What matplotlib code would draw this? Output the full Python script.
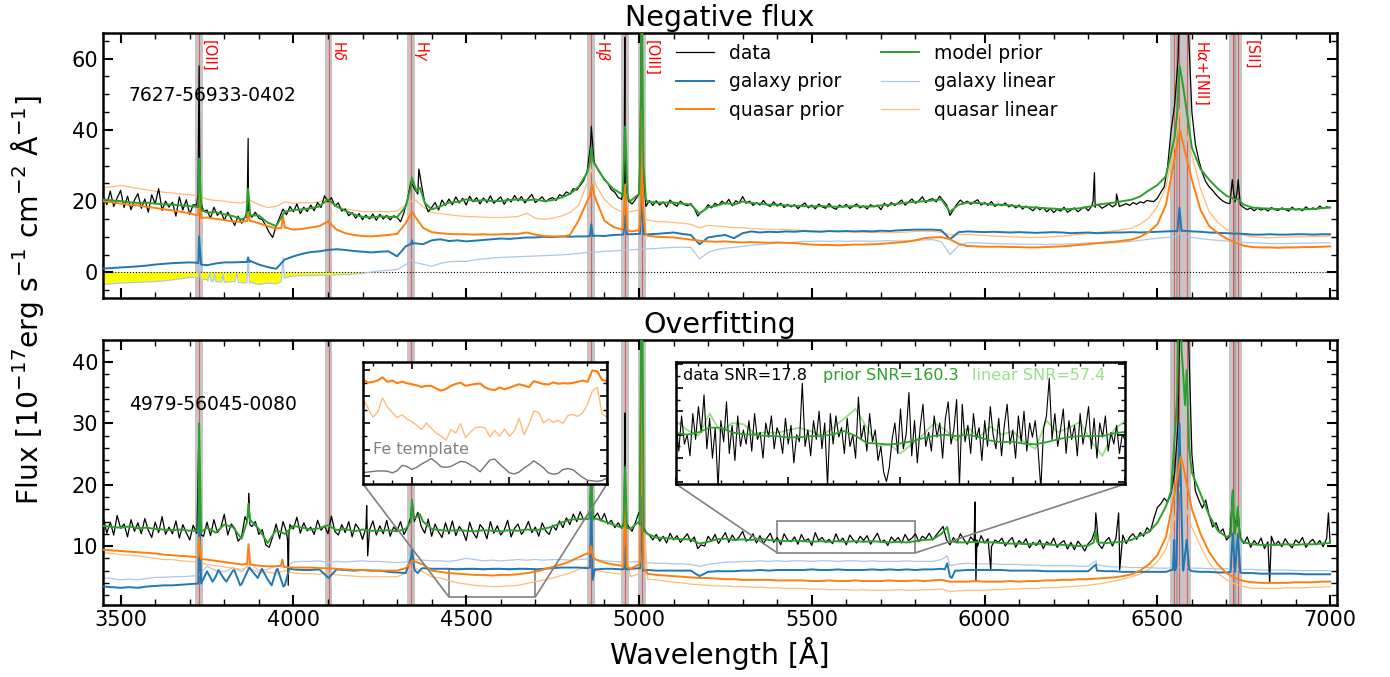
import numpy as np
import matplotlib.pyplot as plt
from matplotlib.ticker import MultipleLocator
from mpl_toolkits.axes_grid1.inset_locator import mark_inset

# wavelength grids [Angstrom]
wl_data = np.arange(3450, 7001, 10)   # observed spectra
wl_comp = np.arange(3450, 7001, 25)   # model components

# ---------------- 7627-56933-0402 : negative flux ----------------
neg_data = [
    21.5, 19.0, 22.8, 18.5, 20.9, 23.0, 18.2, 21.4, 17.6, 20.3,
    22.1, 18.0, 20.6, 16.9, 21.8, 19.2, 23.5, 17.4, 20.0, 18.3,
    19.7, 15.8, 21.2, 17.5, 20.4, 16.3, 19.0, 18.9, 19.5, 17.2,
    17.5, 15.2, 18.3, 16.0, 17.2, 14.6, 16.9, 15.1, 13.2, 15.8,
    13.8, 15.5, 16.8, 15.5, 16.9, 15.2, 14.8, 13.1, 11.2, 9.8,
    13.0, 15.4, 17.8, 16.2, 18.5, 17.0, 19.2, 16.5, 18.3, 17.1,
    18.9, 17.3, 19.6, 18.2, 21.5, 19.8, 21.0, 18.6, 19.5, 17.2,
    17.8, 15.9, 16.8, 15.2, 16.5, 14.8, 16.1, 15.0, 16.4, 14.6,
    16.3, 15.0, 16.0, 14.7, 15.9, 15.5, 14.2, 16.8, 20.5, 25.5,
    23.5, 22.0, 25.0, 19.5, 17.0, 18.2, 19.6, 17.5, 20.3, 18.8,
    20.6, 19.0, 21.2, 19.5, 20.8, 18.9, 21.4, 19.8, 21.0, 19.2,
    20.9, 19.6, 21.5, 19.4, 20.3, 21.2, 19.1, 20.7, 19.8, 21.6,
    20.1, 21.3, 19.5, 20.8, 21.9, 19.6, 20.4, 21.2, 19.8, 20.6,
    21.0, 20.2, 21.8, 21.4, 22.6, 22.0, 23.5, 23.1, 24.4, 25.8,
    28.4, 36.0, 31.0, 29.0, 27.5, 26.2, 25.0, 23.2, 22.5, 21.0,
    20.5, 21.0, 20.0, 19.2, 20.5, 22.0, 22.0, 18.5, 20.2, 18.8,
    20.1, 18.9, 19.8, 18.4, 20.3, 19.2, 18.6, 20.0, 19.1, 18.7,
    19.3, 18.0, 15.8, 16.9, 17.5, 19.0, 18.1, 19.4, 18.8, 20.0,
    19.2, 20.5, 18.7, 20.1, 19.5, 21.3, 19.4, 20.0, 18.8, 19.6,
    18.9, 20.2, 19.0, 18.5, 19.8, 18.6, 19.4, 18.2, 19.1, 18.4,
    19.0, 17.9, 18.8, 19.5, 18.1, 18.9, 17.8, 19.2, 18.4, 18.0,
    19.3, 18.2, 17.7, 18.9, 18.3, 19.1, 17.9, 18.6, 19.2, 18.1,
    18.7, 17.8, 19.0, 18.4, 18.9, 17.6, 19.4, 18.5, 19.6, 18.8,
    19.5, 20.3, 18.9, 19.8, 20.6, 19.4, 20.1, 21.2, 19.6, 20.4,
    20.7, 19.8, 21.4, 20.2, 19.0, 16.0, 17.6, 19.2, 20.3, 19.4,
    20.0, 19.1, 19.8, 20.4, 18.9, 19.6, 18.8, 19.9, 18.5, 19.2,
    18.7, 19.5, 18.4, 19.0, 18.1, 18.9, 17.8, 18.6, 18.0, 17.3,
    18.4, 17.6, 18.2, 17.0, 17.9, 16.8, 17.7, 17.2, 18.3, 16.9,
    17.5, 18.1, 17.0, 17.8, 18.4, 17.3, 18.6, 18.3, 18.9, 18.0,
    18.6, 19.2, 18.4, 19.0, 18.5, 18.9, 19.3, 18.8, 19.6, 19.1,
    19.8, 19.5, 20.2, 20.0, 19.9, 20.8, 22.5, 24.0, 30.0, 40.0,
    47.0, 60.0, 75.0, 80.0, 68.0, 45.0, 36.0, 31.5, 28.0, 25.5,
    24.0, 23.0, 21.8, 20.8, 20.0, 19.5, 19.3, 23.0, 22.0, 19.0,
    18.2, 17.6, 18.1, 17.3, 18.0, 17.5, 17.9, 17.2, 18.2, 17.6,
    17.4, 18.1, 17.7, 17.2, 18.3, 17.5, 17.9, 17.3, 18.4, 17.6,
    18.1, 17.7, 18.6, 17.9, 18.4, 18.2]
neg_data_peaks = [(3724, 22.0), (3727, 58.0), (3731, 20.0), (3866, 17.0), (3869, 37.6),
                  (3872, 16.5), (4363, 29.0), (4862, 41.0), (4957, 25.0), (4959, 66.0),
                  (4963, 24.0), (5003, 32.0), (5008, 80.0), (5013, 28.0), (6314, 20.0),
                  (6318, 28.0), (6322, 19.0), (6382, 22.0), (6565, 80.0), (6717, 26.0),
                  (6725, 19.8), (6734, 26.0)]

neg_model = [
    20.5, 20.2, 20.0, 19.7, 19.5, 19.6, 19.3, 19.1,
    19.0, 18.8, 18.6, 18.3, 16.8, 16.9, 16.3, 15.8,
    14.9, 16.0, 16.0, 14.0, 13.0, 17.0, 17.5, 17.7,
    18.0, 18.5, 20.5, 18.5, 17.3, 16.3, 15.6, 15.4,
    15.7, 15.6, 15.5, 18.5, 24.5, 21.0, 17.7, 18.5,
    19.6, 19.8, 20.5, 20.0, 20.3, 20.0, 20.0, 20.3,
    20.5, 20.2, 20.5, 20.0, 20.3, 21.0, 22.0, 24.0,
    28.0, 30.0, 26.0, 23.5, 22.0, 20.0, 22.0, 19.8,
    19.6, 19.6, 19.6, 19.3, 19.0, 16.5, 18.3, 18.7,
    19.5, 19.0, 19.9, 19.5, 19.3, 19.0, 19.0, 18.8,
    18.7, 18.6, 18.5, 18.6, 18.5, 18.4, 18.5, 18.6,
    18.5, 18.5, 18.8, 19.0, 19.3, 19.6, 19.8, 20.0,
    20.2, 20.5, 17.0, 19.0, 19.6, 19.5, 19.3, 19.0,
    19.0, 18.8, 18.5, 18.3, 18.2, 18.0, 17.9, 17.7,
    17.8, 18.0, 18.4, 19.0, 19.3, 19.6, 20.0, 20.4,
    21.3, 23.0, 24.5, 27.0, 38.0, 52.0, 35.0, 29.0,
    26.0, 23.5, 21.5, 20.5, 19.0, 18.2, 18.0, 17.9,
    17.8, 17.8, 17.7, 17.7, 17.8, 18.0, 18.2]
neg_model_peaks = [(3720, 18.4), (3727, 32.0), (3734, 17.5), (3863, 15.5), (3869, 23.5),
                   (3876, 16.0), (4340, 24.0), (4343, 26.6), (4357, 22.7), (4366, 23.8),
                   (4380, 19.5), (4858, 31.0), (4862, 35.0), (4868, 31.0), (4953, 21.5),
                   (4960, 41.0), (4967, 21.0), (5001, 24.0), (5004, 35.0), (5008, 80.0),
                   (5013, 30.0), (5020, 20.5), (6558, 45.0), (6564, 58.0), (6570, 55.0),
                   (6718, 20.8), (6733, 20.6)]

neg_quasar = [
    20.0, 19.7, 19.3, 19.0, 18.8, 18.4, 18.1, 17.7,
    17.4, 17.0, 16.6, 16.2, 15.4, 15.0, 14.7, 14.3,
    14.2, 14.5, 13.8, 13.0, 12.3, 12.5, 12.0, 12.2,
    12.6, 13.0, 14.3, 12.0, 11.0, 10.5, 10.2, 10.1,
    10.3, 10.5, 10.8, 13.8, 16.0, 12.5, 11.3, 11.0,
    10.8, 10.7, 10.7, 10.6, 10.7, 10.6, 10.7, 10.8,
    10.8, 11.2, 10.6, 10.2, 10.1, 10.0, 10.5, 14.5,
    20.0, 20.5, 14.5, 12.8, 12.0, 11.5, 11.8, 10.3,
    10.0, 9.9, 9.8, 9.5, 9.2, 8.9, 8.7, 8.6,
    8.7, 8.5, 8.4, 8.5, 8.4, 8.3, 8.4, 8.3,
    8.2, 8.0, 7.8, 7.7, 7.7, 7.6, 7.7, 7.8,
    7.8, 7.9, 8.0, 8.2, 8.4, 8.6, 9.0, 9.6,
    9.8, 9.9, 9.3, 8.0, 7.4, 7.3, 7.2, 7.2,
    7.2, 7.1, 7.1, 7.0, 7.0, 7.1, 7.2, 7.3,
    7.5, 7.7, 7.9, 8.2, 8.4, 8.6, 8.9, 9.2,
    10.0, 11.3, 13.5, 19.0, 32.0, 36.0, 26.0, 17.5,
    13.0, 11.0, 9.5, 8.4, 7.5, 7.1, 7.0, 7.0,
    6.9, 7.0, 7.0, 7.1, 7.1, 7.2, 7.3]
neg_quasar_peaks = [(3721, 16.0), (3727, 22.4), (3733, 15.3), (3866, 14.4), (3870, 17.0),
                    (3874, 14.4), (3965, 12.5), (3970, 15.7), (3976, 12.6), (4343, 17.1),
                    (4858, 21.5), (4864, 24.7), (4870, 22.0), (4954, 12.5), (4960, 24.7),
                    (4966, 12.0), (5002, 13.5), (5005, 20.0), (5008, 46.0), (5012, 18.0),
                    (5018, 11.0), (6560, 37.0), (6566, 40.0), (6572, 37.0)]

neg_galaxy = [
    1.1, 1.2, 1.4, 1.5, 1.7, 1.9, 2.2, 2.4,
    2.6, 2.7, 2.8, 2.6, 2.0, 2.5, 2.8, 2.8,
    2.9, 3.2, 2.2, 1.5, 1.0, 3.6, 4.5, 5.2,
    5.7, 5.9, 6.3, 6.5, 6.3, 6.0, 5.8, 5.6,
    5.8, 5.9, 4.5, 7.3, 8.2, 7.9, 9.0, 9.3,
    8.8, 9.0, 8.7, 8.9, 9.1, 9.3, 9.5, 9.4,
    9.6, 9.8, 9.8, 10.0, 9.9, 10.1, 10.0, 10.1,
    10.1, 10.3, 10.2, 10.5, 10.6, 10.7, 10.8, 10.7,
    10.8, 11.0, 11.2, 10.8, 10.5, 7.9, 9.8, 10.2,
    10.5, 9.6, 11.0, 11.5, 11.2, 11.4, 11.3, 11.5,
    11.4, 11.6, 11.5, 11.4, 11.6, 11.5, 11.6, 11.5,
    11.6, 11.5, 11.7, 11.6, 11.8, 11.9, 12.0, 12.0,
    12.0, 11.8, 9.3, 11.3, 11.5, 11.4, 11.3, 11.4,
    11.3, 11.2, 11.3, 11.2, 11.1, 11.2, 11.3, 11.2,
    11.0, 11.1, 11.2, 11.0, 11.1, 11.2, 11.2, 11.3,
    11.2, 11.3, 11.4, 11.5, 11.6, 11.7, 11.5, 11.4,
    11.2, 11.1, 11.0, 10.9, 10.8, 10.6, 10.6, 10.7,
    10.6, 10.6, 10.7, 10.7, 10.6, 10.7, 10.7]
neg_galaxy_peaks = [(3721, 2.7), (3727, 10.1), (3733, 2.2), (3866, 2.9), (3869, 4.2),
                    (3873, 2.9), (4340, 8.0), (4343, 9.0), (4346, 8.0), (4858, 10.2),
                    (4862, 13.5), (4866, 10.2), (4955, 10.6), (4960, 16.0), (4965, 10.7),
                    (5003, 10.8), (5008, 22.0), (5013, 10.7), (6558, 11.6), (6564, 18.2),
                    (6570, 11.6)]

neg_galaxy_lin = [
    -3.4, -3.2, -3.0, -2.9, -2.8, -2.7, -2.6, -2.4,
    -2.1, -1.8, -1.4, -1.6, -2.0, -2.4, -2.8, -2.6,
    -2.9, -2.8, -3.4, -3.0, -3.2, -1.5, -1.0, -0.9,
    -0.9, -0.8, -0.8, -0.7, -0.6, -0.5, -0.3, 0.1,
    0.4, 0.6, 0.8, 2.2, 2.8, 2.3, 1.7, 2.5,
    3.0, 3.1, 3.1, 3.5, 3.8, 4.0, 4.2, 4.3,
    4.4, 4.5, 4.6, 4.7, 4.8, 4.9, 5.1, 5.3,
    5.6, 5.7, 5.9, 6.0, 6.2, 6.3, 6.5, 6.6,
    6.7, 6.9, 7.0, 7.1, 7.0, 3.8, 5.6, 6.4,
    6.8, 7.0, 7.3, 7.6, 7.8, 8.0, 8.2, 8.3,
    8.5, 8.7, 8.7, 8.8, 8.7, 8.8, 8.7, 8.8,
    8.8, 8.7, 8.8, 8.9, 8.8, 8.9, 9.0, 9.1,
    9.2, 8.6, 5.0, 7.5, 8.4, 8.3, 8.2, 8.1,
    8.0, 8.0, 7.9, 7.9, 7.9, 7.8, 7.9, 7.9,
    8.0, 8.1, 8.3, 8.2, 8.2, 8.3, 8.5, 8.7,
    9.0, 9.3, 9.6, 9.8, 10.0, 10.1, 9.8, 9.5,
    9.2, 9.0, 8.8, 8.6, 8.4, 8.3, 8.2, 8.1,
    8.1, 8.1, 8.2, 8.2, 8.2, 8.3, 8.3]
neg_galaxy_lin_peaks = [(3723, -1.4), (3727, 3.6), (3731, -2.0), (3752, -2.4), (3758, -0.2),
                        (3762, -2.5), (3768, -2.5), (3772, -0.2), (3776, -2.6), (3792, -2.7),
                        (3796, -0.5), (3801, -2.8), (3831, -2.6), (3836, -0.3), (3841, -2.8),
                        (3865, -2.9), (3869, 4.2), (3873, -3.0), (3965, -2.6), (3970, 4.2),
                        (3974, -1.6), (4343, 3.5), (6564, 11.0)]

neg_quasar_lin = [
    23.8, 24.0, 24.4, 24.0, 23.5, 23.2, 22.8, 22.5,
    22.3, 22.0, 21.8, 21.5, 20.5, 20.2, 20.0, 19.6,
    19.5, 20.2, 19.0, 18.2, 18.5, 19.8, 19.4, 19.6,
    19.5, 19.8, 20.8, 18.5, 17.8, 17.4, 17.1, 17.0,
    17.1, 17.0, 17.2, 19.0, 20.5, 18.5, 16.8, 16.5,
    16.2, 15.9, 15.7, 15.6, 15.5, 15.4, 15.4, 15.5,
    15.7, 16.6, 15.2, 14.9, 15.2, 15.8, 16.8, 18.8,
    25.0, 24.5, 20.5, 18.2, 17.0, 17.0, 17.5, 14.6,
    14.3, 14.2, 14.0, 13.8, 13.5, 12.5, 13.2, 13.0,
    12.8, 12.6, 12.5, 12.3, 12.2, 12.1, 12.0, 12.1,
    11.9, 11.8, 11.7, 11.6, 11.5, 11.5, 11.4, 11.3,
    11.3, 11.2, 11.2, 11.1, 11.2, 11.3, 11.5, 11.6,
    11.5, 11.3, 10.5, 10.6, 10.7, 10.5, 10.4, 10.2,
    10.1, 10.0, 9.9, 9.8, 9.8, 9.9, 10.0, 10.2,
    10.4, 10.7, 10.9, 11.2, 11.4, 11.7, 12.0, 12.4,
    13.5, 15.2, 18.5, 24.0, 36.0, 42.0, 33.0, 23.5,
    17.0, 14.0, 12.0, 11.0, 10.4, 10.0, 9.8, 9.7,
    9.8, 9.9, 10.0, 10.0, 10.1, 10.1, 10.2]
neg_quasar_lin_peaks = [(4862, 28.9), (4955, 17.0), (4960, 23.0), (4965, 17.0), (5004, 20.0),
                        (5008, 27.0), (5013, 16.0), (6565, 45.7)]

# ---------------- 4979-56045-0080 : overfitting ----------------
ovf_data = [
    14.6, 12.1, 13.9, 11.8, 15.0, 12.9, 13.6, 11.5, 14.3, 12.4,
    13.8, 12.0, 14.5, 12.6, 11.4, 13.9, 12.2, 14.8, 11.9, 13.1,
    12.0, 14.1, 11.3, 13.5, 12.2, 11.0, 13.4, 12.1, 12.8, 11.6,
    13.9, 11.7, 14.3, 12.2, 13.0, 15.2, 11.8, 13.6, 12.9, 10.8,
    11.5, 14.8, 15.5, 13.2, 14.0, 11.9, 12.7, 10.2, 9.8, 11.5,
    13.6, 11.2, 14.0, 12.3, 13.5, 12.8, 14.7, 12.1, 13.8, 12.5,
    13.1, 11.9, 14.2, 12.6, 13.3, 12.0, 14.9, 12.4, 11.8, 13.5,
    12.2, 14.0, 11.5, 13.6, 12.8, 11.1, 13.0, 12.6, 14.1, 11.8,
    13.3, 12.0, 14.2, 11.6, 13.1, 12.5, 14.0, 11.9, 13.0, 14.8,
    14.0, 15.5, 13.2, 12.1, 14.4, 11.6, 13.6, 12.3, 11.4, 13.8,
    12.0, 14.1, 11.7, 13.2, 12.4, 10.9, 13.9, 12.2, 11.3, 13.5,
    12.8, 11.2, 14.0, 12.1, 13.3, 11.8, 12.6, 14.2, 11.5, 12.9,
    13.6, 11.9, 12.7, 14.0, 12.2, 13.1, 11.6, 13.8, 12.5, 11.9,
    13.4, 12.6, 14.1, 13.0, 14.6, 13.5, 15.2, 14.0, 15.6, 14.2,
    15.0, 20.0, 14.6, 15.4, 14.1, 15.3, 13.6, 14.2, 13.0, 13.8,
    12.9, 13.5, 13.2, 12.4, 13.9, 15.5, 14.0, 12.3, 11.8, 11.0,
    11.9, 10.8, 11.6, 10.5, 12.1, 11.0, 11.7, 10.6, 11.3, 12.0,
    10.7, 11.5, 9.6, 10.2, 10.0, 11.6, 10.8, 11.9, 10.4, 11.3,
    12.2, 10.6, 11.8, 10.9, 11.5, 12.4, 10.8, 11.1, 12.0, 10.5,
    11.7, 10.4, 11.3, 12.1, 10.6, 11.4, 10.2, 12.0, 11.0, 10.7,
    11.5, 10.3, 11.9, 10.8, 11.2, 10.1, 12.2, 10.9, 11.4, 10.6,
    11.1, 10.4, 12.0, 10.7, 11.3, 10.2, 11.8, 11.0, 10.5, 11.6,
    10.9, 11.7, 10.3, 11.2, 12.1, 10.6, 11.0, 10.1, 11.5, 10.8,
    11.4, 10.5, 11.9, 10.9, 11.3, 12.0, 10.7, 11.6, 11.2, 12.1,
    11.0, 11.8, 12.5, 13.2, 11.0, 10.2, 11.4, 10.5, 12.0, 11.1,
    10.3, 11.5, 10.8, 10.0, 11.7, 10.5, 11.2, 9.9, 11.0, 10.6,
    11.3, 10.0, 10.8, 11.4, 9.8, 10.9, 10.3, 11.2, 9.7, 10.6,
    10.1, 11.0, 9.6, 10.7, 10.2, 11.3, 9.8, 10.5, 10.9, 9.5,
    10.6, 9.4, 10.8, 10.1, 9.2, 10.4, 11.0, 12.6, 10.3, 9.6,
    10.8, 11.4, 10.0, 11.2, 10.6, 11.8, 10.4, 11.5, 12.0, 11.1,
    12.2, 11.6, 13.0, 12.4, 14.5, 16.3, 16.9, 17.8, 17.2, 18.6,
    22.0, 30.0, 60.0, 60.0, 45.0, 25.0, 19.0, 17.5, 16.2, 17.5,
    15.0, 13.1, 13.8, 12.2, 12.8, 11.0, 11.6, 15.0, 13.2, 11.3,
    10.4, 11.5, 9.8, 10.9, 10.2, 11.3, 9.6, 10.7, 11.6, 10.1,
    10.8, 9.9, 11.2, 10.3, 9.7, 11.0, 10.5, 11.4, 9.8, 10.6,
    11.1, 10.2, 10.9, 9.9, 11.3, 10.5]
ovf_data_peaks = [(3721, 12.4), (3727, 30.0), (3733, 11.8), (3866, 14.0), (3870.5, 18.6),
                  (3874, 13.5), (3983, 11.0), (3985, 3.6), (3987, 12.0), (4212, 16.6),
                  (4215, 8.4), (4343, 17.5), (4858, 15.5), (4862, 22.0), (4866, 15.0),
                  (4957, 14.0), (4959.5, 31.7), (4962, 13.8), (5003, 15.0), (5008, 60.0),
                  (5013, 13.0), (5972, 17.2), (5975, 4.2), (5978, 11.0), (6018, 6.1),
                  (6322, 15.4), (6388, 15.4), (6391, 6.1), (6568, 60.0), (6718, 19.0),
                  (6733, 16.0), (6825, 4.0), (6995, 15.4)]

ovf_model = [
    13.3, 13.1, 13.0, 13.2, 12.9, 13.0, 12.8, 12.7,
    12.6, 12.7, 12.5, 12.4, 13.0, 12.2, 13.5, 13.1,
    11.2, 14.0, 12.8, 10.5, 12.6, 12.0, 13.3, 13.0,
    12.7, 12.9, 13.4, 12.6, 12.8, 12.4, 12.7, 12.5,
    12.5, 12.6, 12.4, 12.8, 14.5, 14.0, 12.8, 12.6,
    12.5, 12.6, 12.5, 12.4, 12.6, 12.5, 12.4, 12.6,
    12.5, 12.7, 12.6, 12.8, 13.2, 13.8, 14.3, 14.4,
    14.4, 14.5, 14.0, 13.5, 13.0, 12.8, 14.0, 12.0,
    11.4, 11.3, 11.2, 11.1, 11.1, 10.4, 10.7, 11.1,
    11.2, 11.0, 11.1, 11.0, 11.2, 11.0, 10.9, 10.8,
    10.9, 10.8, 10.7, 10.8, 10.7, 10.8, 10.7, 10.8,
    10.7, 10.8, 10.7, 10.6, 10.7, 10.6, 10.8, 11.0,
    11.1, 12.0, 10.8, 10.6, 10.6, 10.7, 10.6, 10.6,
    10.5, 10.4, 10.4, 10.3, 10.4, 10.3, 10.2, 10.2,
    10.1, 10.0, 10.1, 10.8, 10.5, 10.6, 10.7, 11.0,
    11.7, 12.3, 13.8, 16.5, 28.0, 38.0, 22.0, 18.5,
    15.0, 12.5, 11.5, 12.0, 10.6, 10.3, 10.2, 10.2,
    10.2, 10.3, 10.2, 10.3, 10.3, 10.4, 10.5]
ovf_model_peaks = [(3721, 12.5), (3727, 30.0), (3733, 12.3), (3866, 14.0), (3870, 16.9),
                   (3876, 14.2), (4340, 14.0), (4343, 17.5), (4347, 14.5), (4366, 15.2),
                   (4857, 14.5), (4862, 22.0), (4867, 14.3), (4955, 13.3), (4960, 22.9),
                   (4965, 13.0), (5002, 13.5), (5008, 60.0), (5014, 12.5), (5892, 13.1),
                   (6316, 10.6), (6322, 12.5), (6328, 10.6), (6540, 19.0), (6558, 35.0),
                   (6564, 60.0), (6570, 42.0), (6580, 33.0), (6585, 38.7), (6592, 26.0),
                   (6713, 11.8), (6718, 19.1), (6723, 12.5), (6733, 16.4), (6738, 11.5)]

ovf_quasar = [
    9.4, 9.3, 9.2, 9.1, 9.0, 8.9, 8.8, 8.6,
    8.5, 8.4, 8.3, 8.2, 7.8, 7.6, 7.4, 7.2,
    7.0, 7.0, 6.8, 6.7, 6.7, 6.6, 6.5, 6.5,
    6.5, 6.4, 6.4, 6.3, 6.2, 6.1, 6.1, 6.0,
    6.0, 6.0, 6.0, 6.4, 7.5, 7.0, 6.0, 5.8,
    5.6, 5.5, 5.4, 5.3, 5.3, 5.2, 5.3, 5.3,
    5.4, 5.6, 5.8, 6.2, 6.6, 7.0, 7.5, 8.2,
    8.8, 7.8, 7.3, 7.0, 6.8, 6.3, 7.0, 5.5,
    5.3, 5.2, 5.1, 5.0, 4.9, 4.8, 4.8, 4.7,
    4.6, 4.6, 4.5, 4.5, 4.5, 4.5, 4.4, 4.4,
    4.4, 4.4, 4.3, 4.3, 4.4, 4.3, 4.3, 4.4,
    4.3, 4.3, 4.3, 4.4, 4.3, 4.3, 4.4, 4.3,
    4.4, 4.5, 4.2, 4.2, 4.2, 4.3, 4.2, 4.2,
    4.2, 4.3, 4.2, 4.3, 4.3, 4.4, 4.4, 4.5,
    4.5, 4.6, 4.6, 4.7, 4.8, 4.9, 5.1, 5.4,
    6.0, 7.0, 8.5, 11.5, 18.5, 23.0, 16.0, 12.0,
    9.0, 7.0, 5.6, 4.8, 4.3, 4.1, 4.0, 4.0,
    4.0, 4.0, 4.1, 4.1, 4.1, 4.2, 4.2]
ovf_quasar_peaks = [(3721, 8.2), (3727, 11.4), (3733, 7.9), (3866, 7.1), (3870, 10.3),
                    (3876, 7.0), (3964, 6.8), (3968, 7.8), (3972, 6.7), (4343, 7.6),
                    (4858, 8.8), (4862, 10.0), (4866, 8.2), (4955, 6.8), (4960, 20.0),
                    (4965, 6.6), (5003, 7.5), (5008, 50.0), (5013, 6.5), (6568, 24.6)]

ovf_galaxy = [
    3.4, 3.3, 3.2, 3.3, 3.2, 3.4, 3.5, 3.6,
    3.6, 3.7, 3.8, 3.9, 5.9, 5.0, 4.6, 6.0,
    3.8, 6.3, 5.2, 4.6, 6.0, 3.6, 6.2, 6.1,
    6.1, 6.2, 4.9, 6.2, 6.1, 6.0, 6.1, 6.0,
    6.0, 5.8, 5.7, 5.6, 6.2, 6.4, 6.3, 6.3,
    6.3, 6.2, 6.3, 6.3, 6.2, 6.3, 6.3, 6.2,
    6.3, 6.3, 6.2, 6.3, 6.4, 6.5, 6.5, 6.5,
    6.4, 6.2, 6.3, 6.3, 6.2, 6.3, 6.4, 6.1,
    6.0, 6.0, 6.0, 6.0, 6.0, 5.1, 5.8, 5.9,
    5.9, 5.9, 6.0, 6.0, 6.1, 6.0, 6.1, 6.1,
    6.1, 6.1, 6.2, 6.1, 6.1, 6.2, 6.1, 6.1,
    6.1, 6.2, 6.1, 6.2, 6.1, 6.2, 6.1, 6.2,
    6.2, 6.3, 5.0, 6.0, 6.1, 6.1, 6.1, 6.1,
    6.1, 6.0, 6.0, 6.0, 6.0, 5.9, 5.9, 5.9,
    5.9, 5.9, 5.9, 6.0, 5.9, 5.9, 5.8, 5.8,
    5.8, 5.8, 5.8, 5.8, 6.0, 6.0, 5.9, 5.8,
    5.8, 5.7, 5.7, 5.8, 5.6, 5.6, 5.5, 5.5,
    5.5, 5.5, 5.5, 5.4, 5.4, 5.4, 5.4]
ovf_galaxy_peaks = [(3721, 3.9), (3727, 17.8), (3733, 3.9), (3766, 4.2), (3783, 6.1),
                    (3806, 4.2), (3829, 6.1), (3846, 3.6), (3872, 6.5), (3897, 4.8),
                    (3909, 6.3), (3937, 3.6), (3954, 6.3), (3971, 3.4), (3988, 6.3),
                    (4102, 4.8), (4340, 8.0), (4343, 9.5), (4352, 6.0), (4360, 5.6),
                    (4370, 6.3), (4858, 6.5), (4862, 19.0), (4866, 4.5), (4872, 6.2),
                    (4957, 6.3), (4960, 10.0), (4963, 6.2), (5004, 6.4), (5008, 18.0),
                    (5012, 6.0), (5885, 6.2), (5892, 7.2), (5905, 4.8), (5915, 6.0),
                    (6322, 7.0), (6545, 6.2), (6549, 11.0), (6555, 6.5), (6564, 30.0),
                    (6574, 6.5), (6585, 11.0), (6592, 6.2), (6712, 5.8), (6718, 12.1),
                    (6725, 5.8), (6733, 12.0), (6740, 5.7)]

ovf_galaxy_lin = [
    4.8, 4.7, 4.5, 4.6, 4.5, 4.7, 4.9, 4.9,
    5.0, 5.0, 5.1, 5.2, 6.7, 6.0, 5.8, 6.5,
    5.8, 7.2, 6.0, 6.2, 6.8, 6.5, 7.4, 7.5,
    7.5, 7.6, 7.3, 7.5, 7.4, 7.5, 7.6, 7.5,
    7.5, 7.4, 7.3, 7.4, 7.8, 7.7, 7.6, 7.6,
    7.5, 7.7, 8.0, 7.8, 7.6, 7.7, 7.6, 7.7,
    7.8, 7.7, 7.8, 7.7, 7.8, 7.8, 7.7, 7.8,
    7.9, 7.8, 7.6, 7.5, 7.4, 7.4, 7.5, 7.3,
    7.2, 7.2, 7.1, 7.1, 7.0, 6.7, 7.0, 7.2,
    7.4, 7.4, 7.5, 7.5, 7.6, 7.5, 7.6, 7.5,
    7.6, 7.6, 7.5, 7.6, 7.6, 7.5, 7.6, 7.6,
    7.5, 7.6, 7.5, 7.5, 7.5, 7.6, 7.5, 7.5,
    7.5, 7.8, 6.8, 7.1, 7.2, 7.1, 7.1, 7.1,
    7.0, 7.0, 7.0, 6.9, 6.9, 6.8, 6.8, 6.8,
    6.8, 6.7, 6.7, 7.0, 6.7, 6.6, 6.6, 6.5,
    6.5, 6.5, 6.4, 6.4, 6.5, 6.6, 6.4, 6.4,
    6.3, 6.3, 6.3, 6.2, 6.2, 6.2, 6.1, 6.1,
    6.1, 6.1, 6.0, 6.0, 6.0, 6.0, 6.0]
ovf_galaxy_lin_peaks = [(5892, 8.4), (6322, 7.6)]

ovf_quasar_lin = [
    8.9, 8.8, 8.6, 8.5, 8.4, 8.2, 8.0, 7.8,
    7.8, 7.6, 7.5, 7.4, 7.0, 6.8, 6.6, 6.4,
    6.2, 6.6, 5.6, 5.8, 5.5, 6.0, 5.6, 5.5,
    5.5, 5.4, 5.6, 5.3, 5.2, 5.1, 5.0, 5.0,
    5.0, 5.0, 5.0, 5.6, 6.5, 5.8, 5.0, 4.8,
    4.4, 4.0, 3.8, 3.6, 3.5, 3.4, 3.4, 3.5,
    3.6, 3.9, 4.2, 4.5, 4.8, 5.2, 5.6, 6.2,
    6.8, 6.0, 5.8, 5.6, 5.4, 5.0, 5.5, 4.6,
    4.5, 4.3, 4.1, 4.0, 3.8, 3.7, 3.6, 3.5,
    3.5, 3.4, 3.4, 3.3, 3.3, 3.2, 3.2, 3.1,
    3.1, 3.1, 3.0, 3.0, 2.9, 2.9, 2.9, 2.8,
    2.9, 2.8, 2.8, 2.8, 2.9, 2.8, 2.8, 2.9,
    2.9, 3.0, 2.6, 2.7, 2.8, 2.8, 2.8, 2.9,
    2.9, 3.0, 3.0, 3.1, 3.1, 3.2, 3.2, 3.3,
    3.4, 3.5, 3.6, 3.8, 4.0, 4.3, 4.6, 5.0,
    5.4, 6.2, 7.4, 9.5, 14.5, 18.0, 13.0, 10.0,
    7.2, 5.6, 4.5, 3.8, 3.4, 3.1, 3.1, 3.1,
    3.1, 3.2, 3.2, 3.2, 3.3, 3.3, 3.4]
ovf_quasar_lin_peaks = [(3866, 6.5), (3870, 8.0), (3876, 6.4), (4862, 8.0), (4960, 10.0),
                        (5008, 20.0), (6565, 19.6)]

# ---------------- inset: Fe region (4450-4700 A) ----------------
fe_wl = np.arange(4450, 4701, 5)
fe_quasar = [5.65, 5.52, 5.55, 5.60, 5.72, 5.55, 5.60, 5.50, 5.56, 5.50,
             5.46, 5.42, 5.36, 5.40, 5.40, 5.30, 5.22, 5.28, 5.40, 5.47,
             5.52, 5.40, 5.44, 5.47, 5.49, 5.34, 5.27, 5.24, 5.34, 5.27,
             5.33, 5.40, 5.46, 5.41, 5.35, 5.58, 5.52, 5.47, 5.45, 5.53,
             5.48, 5.50, 5.49, 5.51, 5.55, 5.60, 5.55, 5.98, 5.95, 5.62, 5.58]
fe_quasar_lin = [4.92, 4.58, 4.22, 4.40, 4.95, 4.60, 4.40, 4.20, 4.31, 4.15,
                 4.05, 3.92, 3.75, 4.00, 3.80, 3.62, 3.50, 3.35, 3.75, 3.62,
                 3.98, 3.45, 3.65, 3.82, 3.85, 3.82, 3.48, 3.72, 3.50, 3.77,
                 3.50, 3.70, 4.18, 3.55, 3.95, 4.45, 4.40, 4.00, 4.15, 4.02,
                 4.10, 3.98, 4.28, 4.32, 4.25, 4.38, 4.70, 5.20, 5.35, 4.35, 4.22]
fe_template = [2.13, 2.15, 2.17, 2.19, 2.19, 2.18, 2.12, 2.20, 2.40, 2.36,
               2.25, 2.33, 2.45, 2.55, 2.66, 2.52, 2.35, 2.33, 2.36, 2.46,
               2.55, 2.53, 2.42, 2.31, 2.16, 2.38, 2.60, 2.64, 2.45, 2.29,
               2.12, 2.08, 2.15, 2.30, 2.42, 2.57, 2.45, 2.31, 2.12, 2.07,
               2.10, 2.25, 2.28, 2.24, 2.09, 1.95, 1.84, 1.82, 1.80, 1.83, 1.92]

# ---------------- inset: SNR region (5400-5800 A) ----------------
snr_wl = np.arange(5400, 5800.1, 2.5)
snr_data = [11.5, 10.3, 11.8, 10.6, 11.0, 10.1, 11.9, 10.8, 12.2, 11.1,
            12.7, 10.4, 11.7, 10.0, 11.3, 8.7, 11.6, 10.7, 12.4, 10.2,
            11.4, 9.9, 11.8, 10.5, 11.2, 10.6, 11.6, 10.3, 11.9, 10.8,
            11.1, 10.0, 11.5, 10.9, 11.8, 10.4, 11.3, 11.0, 10.2, 11.7,
            10.6, 11.4, 9.8, 11.0, 10.7, 13.2, 10.5, 11.2, 10.1, 11.6,
            10.8, 12.0, 10.4, 11.5, 8.8, 11.9, 10.6, 11.8, 10.9, 11.3,
            10.2, 11.7, 10.5, 11.0, 10.0, 12.6, 10.8, 11.4, 10.3, 11.9,
            10.7, 11.2, 9.9, 10.5, 9.4, 9.0, 9.6, 10.8, 11.5, 10.2,
            12.1, 10.4, 11.0, 12.8, 10.1, 11.6, 9.8, 11.3, 12.3, 10.5,
            11.1, 10.3, 11.8, 10.9, 11.5, 10.0, 11.7, 12.4, 10.6, 11.2,
            12.5, 8.8, 12.3, 10.7, 11.4, 10.2, 11.9, 10.8, 11.3, 9.9,
            11.6, 10.5, 12.2, 11.0, 10.4, 11.7, 10.1, 11.4, 12.3, 10.6,
            11.2, 10.0, 11.8, 10.7, 12.0, 10.3, 11.5, 10.9, 11.6, 10.4,
            8.7, 11.3, 11.8, 13.4, 10.8, 11.9, 10.5, 11.2, 12.1, 10.2,
            11.6, 10.8, 11.4, 10.1, 11.9, 10.6, 11.3, 12.2, 10.4, 11.7,
            10.0, 11.5, 10.9, 11.8, 10.3, 11.1, 10.6, 11.4, 10.2, 11.0, 10.8]
snr_wl_model = np.arange(5400, 5801, 10)
snr_prior = [11.08, 11.0, 11.1, 11.3, 11.3, 11.1, 11.02, 11.0, 10.95, 10.94,
             10.88, 10.9, 10.94, 10.94, 11.02, 11.15, 10.95, 10.65, 10.62, 10.58,
             10.63, 10.72, 10.85, 10.95, 11.0, 10.94, 11.0, 10.9, 10.75, 10.68,
             10.7, 10.62, 10.59, 10.68, 10.8, 10.9, 10.94, 10.94, 10.94, 11.06, 11.12]
snr_linear = [11.57, 11.2, 10.95, 11.9, 11.1, 11.5, 11.45, 11.05, 11.1, 11.08,
              11.2, 11.3, 11.15, 10.95, 11.3, 11.7, 12.1, 11.3, 10.5, 10.6,
              10.2, 10.6, 11.0, 11.5, 11.2, 10.75, 11.3, 10.9, 11.35, 11.0,
              11.15, 10.7, 10.4, 11.6, 11.1, 11.3, 11.55, 10.7, 10.1, 11.2, 11.6]

# emission lines
line_wl = [3727, 4102, 4341, 4862, 4960, 5008, 6549, 6564, 6585, 6718, 6733]
line_names = ['[OII]', r'H$\delta$', r'H$\gamma$', r'H$\beta$', '[OIII]',
              r'H$\alpha$+[NII]', '[SII]']
line_name_wl = [3755, 4133, 4370, 4895, 5036, 6628, 6772]

c_gal_lin = '#aec7e8'
c_qso_lin = '#ffbb78'
c_lin = '#98df8a'


def with_peaks(wl, flux, peaks):
    w = np.concatenate([np.asarray(wl, float), [p[0] for p in peaks]])
    f = np.concatenate([np.asarray(flux, float), [p[1] for p in peaks]])
    order = np.argsort(w, kind='stable')
    return w[order], f[order]


def style(ax, ymajor, yminor):
    ax.xaxis.set_major_locator(MultipleLocator(500))
    ax.xaxis.set_minor_locator(MultipleLocator(100))
    ax.yaxis.set_major_locator(MultipleLocator(ymajor))
    ax.yaxis.set_minor_locator(MultipleLocator(yminor))
    ax.tick_params(which='both', direction='in', top=True, right=True, labelsize=15)
    ax.tick_params(which='major', length=7, width=1.5)
    ax.tick_params(which='minor', length=4, width=1.0)
    for s in ax.spines.values():
        s.set_linewidth(1.8)


def draw_panel(ax, data, model, galaxy, quasar, galaxy_lin, quasar_lin, fill=False):
    for w in line_wl:
        ax.axvspan(w - 11, w + 11, color='gray', alpha=0.45, lw=0, zorder=0)
        ax.axvline(w, color='red', alpha=0.55, lw=0.8, zorder=1)
    gl = with_peaks(wl_comp, *galaxy_lin)
    if fill:
        ax.fill_between(gl[0], gl[1], 0, where=gl[1] < 0, color='yellow',
                        interpolate=True, lw=0, zorder=1.5)
        ax.axhline(0, color='k', ls=':', lw=0.8, zorder=1.6)
    h = {}
    h['galaxy linear'], = ax.plot(*gl, color=c_gal_lin, lw=0.9, zorder=2)
    h['quasar linear'], = ax.plot(*with_peaks(wl_comp, *quasar_lin), color=c_qso_lin, lw=0.9, zorder=2)
    h['data'], = ax.plot(*with_peaks(wl_data, *data), color='k', lw=0.9, zorder=3)
    h['galaxy prior'], = ax.plot(*with_peaks(wl_comp, *galaxy), color='C0', lw=1.4, zorder=4)
    h['quasar prior'], = ax.plot(*with_peaks(wl_comp, *quasar), color='C1', lw=1.4, zorder=4)
    h['model prior'], = ax.plot(*with_peaks(wl_comp, *model), color='C2', lw=1.4, zorder=5)
    return h


fig = plt.figure(figsize=(13.9, 6.77), dpi=100)
ax1 = fig.add_axes([0.0741, 0.5598, 0.8878, 0.3914])
ax2 = fig.add_axes([0.0741, 0.1064, 0.8878, 0.3914])

hd = draw_panel(ax1, (neg_data, neg_data_peaks), (neg_model, neg_model_peaks),
                (neg_galaxy, neg_galaxy_peaks), (neg_quasar, neg_quasar_peaks),
                (neg_galaxy_lin, neg_galaxy_lin_peaks), (neg_quasar_lin, neg_quasar_lin_peaks),
                fill=True)
draw_panel(ax2, (ovf_data, ovf_data_peaks), (ovf_model, ovf_model_peaks),
           (ovf_galaxy, ovf_galaxy_peaks), (ovf_quasar, ovf_quasar_peaks),
           (ovf_galaxy_lin, ovf_galaxy_lin_peaks), (ovf_quasar_lin, ovf_quasar_lin_peaks))

for ax in (ax1, ax2):
    ax.set_xlim(3449, 7020)
ax1.set_ylim(-7.2, 67.2)
ax2.set_ylim(0.4, 43.6)
style(ax1, 20, 5)
style(ax2, 10, 2)
ax1.tick_params(labelbottom=False)

ax1.set_title('Negative flux', fontsize=20.5, pad=5)
ax2.set_title('Overfitting', fontsize=20.5, pad=5)
ax2.set_xlabel('Wavelength [Å]', fontsize=20.5, labelpad=5)
fig.text(0.02, 0.557, 'Flux [10$^{-17}$erg s$^{-1}$ cm$^{-2}$ Å$^{-1}$]',
         rotation=90, va='center', ha='center', fontsize=20.3)

ax1.text(0.021, 0.766, '7627-56933-0402', transform=ax1.transAxes, fontsize=13.5, va='center')
ax2.text(0.021, 0.758, '4979-56045-0080', transform=ax2.transAxes, fontsize=13.5, va='center')

for name, x in zip(line_names, line_name_wl):
    ax1.text(x, 0.975, name, transform=ax1.get_xaxis_transform(), rotation=270,
             ha='center', va='top', color='red', fontsize=10.5)

order = ['data', 'galaxy prior', 'quasar prior', 'model prior', 'galaxy linear', 'quasar linear']
ax1.legend([hd[k] for k in order], order, ncol=2, frameon=False, fontsize=13.5,
           loc='upper left', bbox_to_anchor=(0.451, 1.023))

# inset 1: Fe template region
axi1 = ax2.inset_axes([0.2107, 0.4566, 0.1977, 0.4604])
axi1.plot(fe_wl, fe_quasar, color='C1', lw=1.5)
axi1.plot(fe_wl, fe_quasar_lin, color=c_qso_lin, lw=1.0)
axi1.plot(fe_wl, fe_template, color='0.45', lw=1.0)
axi1.text(0.041, 0.28, 'Fe template', transform=axi1.transAxes, color='0.5',
          fontsize=11.5, va='center')
axi1.set_xlim(4450, 4700)
axi1.set_ylim(1.7, 6.3)
axi1.xaxis.set_major_locator(MultipleLocator(100))
axi1.xaxis.set_minor_locator(MultipleLocator(20))
axi1.yaxis.set_major_locator(MultipleLocator(1))
axi1.yaxis.set_minor_locator(MultipleLocator(0.5))

# inset 2: SNR region
axi2 = ax2.inset_axes([0.4643, 0.4566, 0.3639, 0.4604])
axi2.plot(snr_wl_model, snr_linear, color=c_lin, lw=1.3)
axi2.plot(snr_wl, snr_data, color='k', lw=0.8)
axi2.plot(snr_wl_model, snr_prior, color='C2', lw=1.3)
axi2.set_xlim(5400, 5800)
axi2.set_ylim(8.9, 14.1)
axi2.xaxis.set_major_locator(MultipleLocator(100))
axi2.xaxis.set_minor_locator(MultipleLocator(20))
axi2.yaxis.set_major_locator(MultipleLocator(1))
axi2.yaxis.set_minor_locator(MultipleLocator(0.5))
axi2.text(0.016, 0.89, 'data SNR=17.8', transform=axi2.transAxes, color='k', fontsize=11.5, va='center')
axi2.text(0.327, 0.89, 'prior SNR=160.3', transform=axi2.transAxes, color='C2', fontsize=11.5, va='center')
axi2.text(0.66, 0.89, 'linear SNR=57.4', transform=axi2.transAxes, color=c_lin, fontsize=11.5, va='center')

for axi in (axi1, axi2):
    axi.tick_params(which='both', direction='in', top=True, right=True,
                    labelbottom=False, labelleft=False)
    axi.tick_params(which='major', length=5, width=1.2)
    axi.tick_params(which='minor', length=3, width=1.0)
    for s in axi.spines.values():
        s.set_linewidth(1.8)
    mark_inset(ax2, axi, loc1=3, loc2=4, fc='none', ec='0.5', lw=1.2)

fig.savefig('out.png', dpi=100)
